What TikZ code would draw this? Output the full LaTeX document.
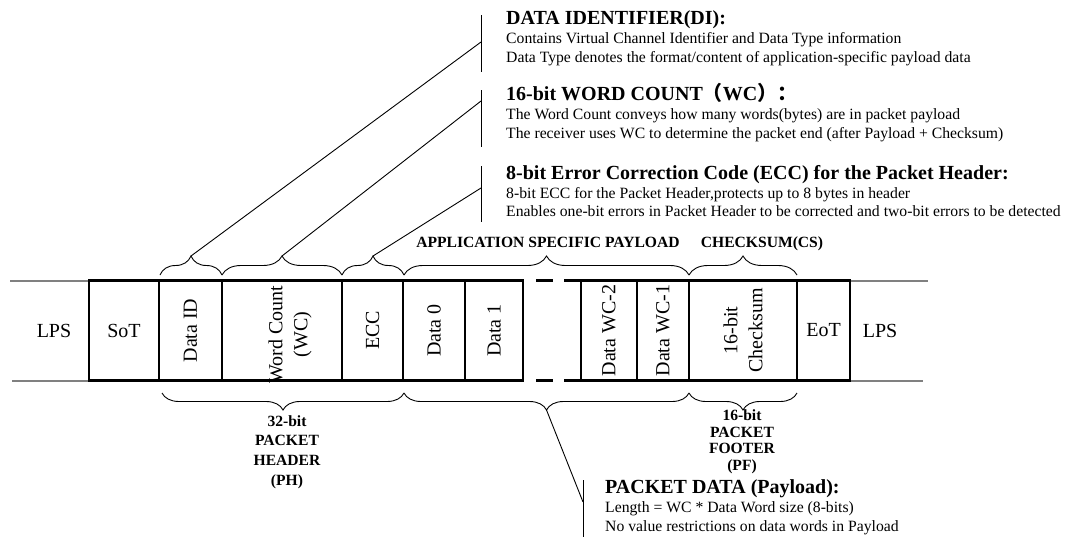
\documentclass[tikz,border=0pt]{standalone}
\usepackage{fontspec}
\setmainfont{Liberation Serif}
\newfontfamily\cjk{Noto Sans CJK SC}
\usetikzlibrary{calc,decorations.pathreplacing}
\tikzset{fld/.style={draw, line width=2.2pt, outer sep=0pt, inner sep=0pt, minimum height=100, anchor=north west},
  vlbl/.style={rotate=90, align=center, font=\fontsize{20}{25}\selectfont},
  hlbl/.style={font=\fontsize{20}{24}\selectfont},
  brc/.style={decorate, decoration={brace, amplitude=19pt}, line width=0.9pt},
  brcd/.style={brc, decoration={mirror, amplitude=17pt}},
  lead/.style={line width=0.9pt},
  lps/.style={draw=gray, line width=2pt},
  blbl/.style={font=\bfseries\fontsize{15.6}{19}\selectfont, anchor=base},
  hd/.style={font=\bfseries\fontsize{20}{24}\selectfont, anchor=base west, inner sep=0pt},
  txt/.style={font=\fontsize{15.7}{19}\selectfont, anchor=base west, inner sep=0pt}}

\begin{document}
\begin{tikzpicture}[x=1pt, y=-1pt]
  \useasboundingbox (0,0) rectangle (1067,539);
  % line state either side of the packet
  \coordinate (l0) at (10,280.5); \coordinate (l1) at (12,380.5);
  \coordinate (r0) at (928,280.5); \coordinate (r1) at (923,380.5);
  \draw[lps] (l0) -- (89,280.5); \draw[lps] (l1) -- (89,380.5);
  \draw[lps] (850,280.5) -- (r0); \draw[lps] (850,380.5) -- (r1);
  % packet fields
  \foreach \n/\a/\b in {sot/89/159, di/159/222, wc/222/342, ecc/342/403, d0/403/465,
      d1/465/523, dn2/581/637, dn1/637/689, cs/689/797, eot/797/850}
    \node[fld, minimum width=\b-\a] (\n) at (\a,280.5) {};
  \draw[line width=2.2pt, dash pattern=on 17pt off 11pt] ($(d1.north east)+(13,0)$) -- (dn2.north west);
  \draw[line width=2.2pt, dash pattern=on 17pt off 11pt] ($(d1.south east)+(13,0)$) -- (dn2.south west);
  \node[hlbl] (lpsl) at (54,331) {LPS};
  \node[hlbl] (lpsr) at (880,331) {LPS};
  \node[hlbl] (sott) at (sot) {SoT};
  \node[hlbl] (eott) at (eot) {EoT};
  \foreach \n/\t in {di/Data ID, ecc/ECC, d0/Data 0, d1/Data 1, dn2/Data WC-2, dn1/Data WC-1}
    \node[vlbl] (\n t) at (\n) {\t};
  \node[vlbl] (wct) at ($(wc)+(8,4)$) {Word Count\\(WC)};
  \node[vlbl] (cst) at (cs) {16-bit\\Checksum};
  % braces
  \foreach \n/\a/\b in {di/160/222, wc/222/342, ecc/342/404, pl/404/689, cs/689/797}
    \draw[brc] (\a,275) -- (\b,275) node[coordinate, midway, above=19pt] (b\n) {};
  \foreach \n/\a/\b in {ph/162/404, pd/404/689, pf/689/797}
    \draw[brcd] (\a,393) -- (\b,393) node[coordinate, midway, below=17pt] (c\n) {};
  \node[blbl] (apl) at (548,247) {APPLICATION SPECIFIC PAYLOAD};
  \node[blbl] (csl) at (762,247) {CHECKSUM(CS)};
  \foreach \t [count=\i] in {32-bit, PACKET, HEADER, (PH)}
    \node[blbl] (ph\i) at (287,{426+19.7*(\i-1)}) {\t};
  \foreach \t [count=\i] in {16-bit, PACKET, FOOTER, (PF)}
    \node[blbl] (pf\i) at (742,{420.7+16.5*(\i-1)}) {\t};
  % callouts
  \foreach \n/\x/\a/\b/\m in {di/481/15/72/42, wc/481/90/147/101, ecc/481/166/222/188, pd/583/480/537/502}{
    \draw[lead] (\x,\a) -- (\x,\b);
    \coordinate (p\n) at (\x,\m);}
  \draw[lead] (bdi) -- (pdi);
  \draw[lead] (bwc) -- (pwc);
  \draw[lead] (becc) -- (pecc);
  \draw[lead] (cpd) -- (ppd);
  \node[hd] (hdi) at (506,24.3) {DATA IDENTIFIER(DI):};
  \node[txt] (tdi1) at (506,43.3) {Contains Virtual Channel Identifier and Data Type information};
  \node[txt] (tdi2) at (506,62.2) {Data Type denotes the format/content of application-specific payload data};
  \node[hd] (hwc) at (506,100.7) {16-bit WORD COUNT{\cjk （}WC{\cjk ）：}};
  \node[txt] (twc1) at (506,119.5) {The Word Count conveys how many words(bytes) are in packet payload};
  \node[txt] (twc2) at (506,138.3) {The receiver uses WC to determine the packet end (after Payload + Checksum)};
  \node[hd] (hecc) at (506,179) {8-bit Error Correction Code (ECC) for the Packet Header:};
  \node[txt] (tecc1) at (506,198.3) {8-bit ECC for the Packet Header,protects up to 8 bytes in header};
  \node[txt] (tecc2) at (506,216.8) {Enables one-bit errors in Packet Header to be corrected and two-bit errors to be detected};
  \node[hd] (hpd) at (605,493) {PACKET DATA (Payload):};
  \node[txt] (tpd1) at (605,512) {Length = WC * Data Word size (8-bits)};
  \node[txt] (tpd2) at (605,531) {No value restrictions on data words in Payload};
\end{tikzpicture}
\end{document}
